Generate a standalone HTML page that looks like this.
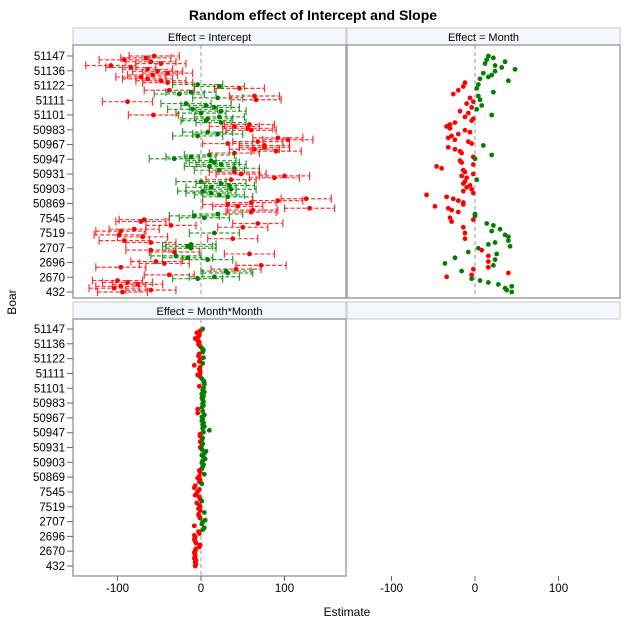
<!DOCTYPE html>
<html><head><meta charset="utf-8"><style>
body{margin:0;background:#fff;}
svg{display:block;font-family:"Liberation Sans",Arial,sans-serif;}
</style></head><body>
<svg id="chart" width="627" height="628"></svg>
<script>
const boarLabels=["51147","51136","51122","51111","51101","50983","50967","50947","50931","50903","50869","7545","7519","2707","2696","2670","432"];
const xTicks=[-100,0,100];
const interceptVals=[-56,-66,-92,-60,-48,-108,-84,-64,-52,-40,-58,-72,
-64,-48,-40,-4,22,46,
-38,-12,-26,64,20,66,-88,
-18,6,16,-10,24,0,-57,
22,8,6,24,58,40,56,60,
8,20,-4,92,104,68,32,76,
76,64,90,40,10,-12,-32,12,
16,24,10,40,22,40,48,100,88,
36,0,24,34,12,36,2,
12,22,32,126,92,60,32,44,
130,62,60,20,-8,4,
-68,-72,68,-36,50,-80,-96,16,
-98,-70,38,-92,-60,-12,-16,-12,
-60,-32,58,-30,-16,8,
-54,-44,72,-96,42,30,32,
-38,16,-4,-100,-88,-76,-96,-104,-60,-94];
const interceptSig="rrrrrrrrrrrr"+"rrrggr"+"rggrgrr"+"ggggggr"+"ggggrrrr"+"gggrrrrr"+"rrrrgggg"+"gggggrrrr"+"rgggggg"+"gggrrrrr"+"rrrggg"+"rrrrrrrg"+"rrrrrggg"+"rrrggg"+"rrrrrgg"+"rggrrrrrrr";
const ciHalf=[30];
const monthVals=[16,22,14,36,12,24,32,48,24,10,20,16,6,40,
-12,4,-14,2,-20,22,-26,4,-6,6,-2,-10,8,-4,2,-18,-8,20,-12,-2,-4,
-24,-30,-34,-30,-12,-6,-20,-28,-32,-24,-8,-4,10,-32,-24,-18,-16,20,-2,0,-18,-16,-2,-46,-40,-14,
-12,-2,-16,-10,2,-12,-14,-6,-10,-4,-14,-2,-58,-34,-26,-20,-14,-14,-48,-32,-28,-20,0,0,-30,-2,-28,
14,22,-14,30,20,-12,36,40,-12,40,24,16,42,4,8,-8,26,16,-24,24,16,-36,22,16,-2,-16,40,-4,-34,-4,6,16,28,44,36,38,44];
const monthSig="gggggggggggggg"+"rgrgrgrgrgrrgrgrrgrrr"+"rrrrrrrrrrrrgrrrrgrgrrrrrr"+"rrrrgrrrrrrrrrrrrrrrrrggrrr"+"ggrggrggrgggggrggrggrggrrgrrrgggggggg";
const mmVals=[2,-1,-5,-2,-3,-7,-4,-2,-3,-1,1,3,2,-2,-3,3,-1,-2,2,-8,-1,-2,-1,-1,-4,-1,1,3,4,4,-2,3,2,4,1,3,1,2,3,2,3,1,-4,2,-4,4,1,2,1,3,2,4,2,10,3,-1,-1,2,1,-1,2,1,-1,1,6,4,1,3,5,2,1,3,2,1,-2,-1,4,-2,-4,-1,-2,1,-7,-8,-2,-4,-5,-7,-2,-1,1,-5,-2,-1,-3,-1,4,-3,-2,-1,5,2,1,-8,4,2,-3,-2,-8,-7,-8,-7,-6,-1,-2,-6,-7,-8,-7,-7,-8,-6,-7,-6,-7];
const mmSig=mmVals.map(v=>v>0?"g":"r");

const NS="http://www.w3.org/2000/svg";
const svg=document.getElementById('chart');
function mk(tag,attrs,parent){const e=document.createElementNS(NS,tag);for(const k in attrs)e.setAttribute(k,attrs[k]);(parent||svg).appendChild(e);return e;}
const RED="#ff0000",GREEN="#008000";
const cols=[{x0:73,x1:346,zero:201},{x0:347,x1:620,zero:475}];
const pxPer=0.835;
function xs(col,v){return cols[col].zero+v*pxPer;}
const rows=[{s0:28,p0:45,p1:298,yTop:56,yBot:292},{s0:302,p0:319,p1:576,yTop:329,yBot:566}];
function ys(r,i,n){return rows[r].yTop+i*(rows[r].yBot-rows[r].yTop)/(n-1);}
function ysLabel(r,j){return rows[r].yTop+j*(rows[r].yBot-rows[r].yTop)/(boarLabels.length-1);}

let t=mk('text',{x:313,y:20,'text-anchor':'middle','font-size':14,'font-weight':'bold',fill:'#000'});
t.textContent="Random effect of Intercept and Slope";



function panel(c,r,title,name){
  const C=cols[c],R=rows[r];
  const g=mk('g',{});
  
  
  const s=mk('rect',{x:C.x0,y:R.s0,width:C.x1-C.x0,height:R.p0-R.s0,fill:'#f5f7fc',stroke:'#c8c8c8'},g);
  
  
  if(title){const tt=mk('text',{x:(C.x0+C.x1)/2,y:R.s0+13,'text-anchor':'middle','font-size':11,fill:'#000'},g);tt.textContent=title;
  
  
  mk('rect',{x:C.x0,y:R.p0,width:C.x1-C.x0,height:R.p1-R.p0,fill:'#fff',stroke:'#a0a0a0','stroke-width':1.5},g);
  mk('line',{x1:C.zero,x2:C.zero,y1:R.p0,y2:R.p1,stroke:'#999','stroke-dasharray':'4,3'},g);}
  return g;
}
const gI=panel(0,0,"Effect = Intercept","intercept-panel");
const gM=panel(1,0,"Effect = Month","month-panel");
const gMM=panel(0,1,"Effect = Month*Month","month-sq-panel");
panel(1,1,null,"empty-panel");

[0,1].forEach(r=>{
  boarLabels.forEach((lab,j)=>{
    const y=ysLabel(r,j);
    mk('line',{x1:67,x2:73,y1:y,y2:y,stroke:'#666'});
    const tl=mk('text',{x:65,y:y+4,'text-anchor':'end','font-size':11.5,fill:'#000'});
    tl.textContent=lab;
    
    
  });
});
[0,1].forEach(c=>{
  xTicks.forEach(v=>{
    const x=xs(c,v);
    mk('line',{x1:x,x2:x,y1:576,y2:581,stroke:'#666'});
    const tl=mk('text',{x:x,y:592,'text-anchor':'middle','font-size':11.5,fill:'#000'});
    tl.textContent=v;
    
    
  });
});
t=mk('text',{x:347,y:616,'text-anchor':'middle','font-size':12,fill:'#000'});t.textContent="Estimate";


t=mk('text',{x:16,y:302,'text-anchor':'middle','font-size':12,fill:'#000',transform:'rotate(-90 16 302)'});t.textContent="Boar";



const n1=interceptVals.length;
interceptVals.forEach((v,i)=>{
  const y=ys(0,i,n1),col=interceptSig[i]==='g'?GREEN:RED;
  const lo=xs(0,v-ciHalf[0]),hi=xs(0,v+ciHalf[0]),x=xs(0,v);
  const eb=mk('g',{stroke:col,'stroke-width':1.2,opacity:0.8},gI);
  
  
  mk('line',{x1:lo,x2:hi,y1:y,y2:y,'stroke-dasharray':'4,2'},eb);
  mk('line',{x1:lo,x2:lo,y1:y-4,y2:y+4},eb);
  mk('line',{x1:hi,x2:hi,y1:y-4,y2:y+4},eb);
  const d=mk('circle',{cx:x,cy:y,r:2.4,fill:col},gI);
  
  
});
const n2=monthVals.length;
monthVals.forEach((v,i)=>{
  const d=mk('circle',{cx:xs(1,v),cy:ys(0,i,n2),r:2.4,fill:monthSig[i]==='g'?GREEN:RED},gM);
  
  
});
const n3=mmVals.length;
mmVals.forEach((v,i)=>{
  const d=mk('circle',{cx:xs(0,v),cy:ys(1,i,n3),r:2.4,fill:mmSig[i]==='g'?GREEN:RED},gMM);
  
  
});
</script>
</body></html>
